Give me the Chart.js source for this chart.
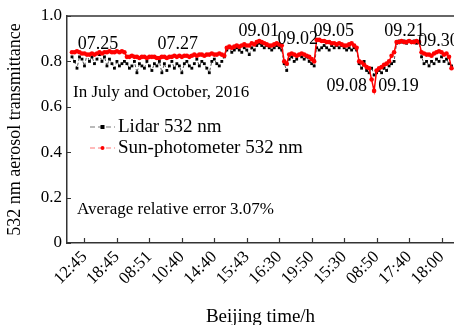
<!DOCTYPE html>
<html>
<head>
<meta charset="utf-8">
<script src="https://cdn.jsdelivr.net/npm/chart.js@4/dist/chart.umd.min.js"></script>
<style>
html, body { margin: 0; padding: 0; background: #fff; }
#wrap { position: relative; width: 454px; height: 325px; }
</style>
</head>
<body>
<div id="wrap"><canvas id="chart" width="454" height="325"></canvas></div>
<script>
// x axis tick labels (Beijing time) and the sample index they sit on
const tickLabels = ['12:45', '18:45', '08:51', '10:40', '14:40', '15:43', '16:30', '19:50', '15:30', '08:50', '17:40', '18:00'];
const tickIndex = [7, 20, 33, 46, 59, 72, 85, 98, 111, 124, 137, 150];

// sun-photometer 532 nm, one value per sample (null = no sample)
const sunValues = [
  null, null,
  // 07.25
  0.84, 0.84, 0.845, 0.84, 0.835, 0.835, 0.83, 0.83, 0.835, 0.83, 0.835, 0.84, 0.835, 0.84, 0.84, 0.845, 0.84, 0.84, 0.845, 0.84, 0.845, 0.84,
  // 07.27
  0.82, 0.82, 0.825, 0.82, 0.82, 0.815, 0.82, 0.82, 0.815, 0.82, 0.82, 0.82, 0.815, 0.815, 0.82, 0.82, 0.815, 0.82, 0.82, 0.825,
  0.82, 0.825, 0.82, 0.825, 0.825, 0.82, 0.825, 0.83, 0.825, 0.83, 0.83, 0.825, 0.83, 0.83, 0.835, 0.83, 0.83, 0.835, 0.83, 0.825,
  // 09.01
  0.86, 0.865, 0.86, 0.865, 0.87, 0.865, 0.87, 0.875, 0.87, 0.87, 0.88, 0.875, 0.885, 0.89, 0.885, 0.88, 0.875, 0.87, 0.87, 0.875, 0.88, 0.875, 0.87,
  // 09.02
  0.80, 0.79, 0.83, 0.835, 0.83, 0.825, 0.83, 0.835, 0.83, 0.825, 0.82, 0.81, 0.80,
  // 09.05
  0.895, 0.895, 0.89, 0.89, 0.885, 0.885, 0.88, 0.88, 0.875, 0.88, 0.875, 0.87, 0.87, 0.875, 0.88, 0.87, 0.86,
  // 09.08
  0.80, 0.795, 0.785, 0.775, 0.77, 0.72, 0.67,
  // 09.19
  0.76, 0.77, 0.775, 0.785, 0.79, 0.80, 0.825, 0.84,
  // 09.21
  0.885, 0.885, 0.89, 0.885, 0.885, 0.89, 0.885, 0.885, 0.89, 0.885,
  // 09.30
  0.84, 0.835, 0.83, 0.83, 0.825, 0.835, 0.84, 0.845, 0.84, 0.83, 0.835, 0.82, 0.77,
  null
];

// lidar 532 nm, same samples
const lidarValues = [
  null, null,
  // 07.25
  0.82, 0.80, 0.77, 0.82, 0.81, 0.78, 0.83, 0.80, 0.82, 0.79, 0.81, 0.83, 0.80, 0.82, 0.78, 0.81, 0.79, 0.77, 0.80, 0.78, 0.79, 0.80,
  // 07.27
  0.79, 0.77, 0.78, 0.80, 0.75, 0.79, 0.78, 0.77, 0.80, 0.78, 0.76, 0.79, 0.78, 0.80, 0.75, 0.79, 0.76, 0.78, 0.80, 0.77,
  0.79, 0.78, 0.75, 0.79, 0.80, 0.78, 0.77, 0.79, 0.81, 0.78, 0.80, 0.79, 0.77, 0.75, 0.80, 0.81, 0.79, 0.78, 0.80, 0.82,
  // 09.01
  0.85, 0.86, 0.84, 0.85, 0.86, 0.85, 0.84, 0.86, 0.85, 0.83, 0.86, 0.85, 0.87, 0.88, 0.87, 0.86, 0.87, 0.86, 0.85, 0.86, 0.87, 0.86, 0.85,
  // 09.02
  0.79, 0.76, 0.81, 0.82, 0.80, 0.81, 0.83, 0.82, 0.81, 0.82, 0.80, 0.79, 0.78,
  // 09.05
  0.86, 0.85, 0.86, 0.87, 0.86, 0.85, 0.87, 0.86, 0.87, 0.86, 0.87, 0.86, 0.85, 0.86, 0.85, 0.86, 0.85,
  // 09.08
  0.79, 0.77, 0.80, 0.76, 0.75, 0.77, 0.74,
  // 09.19
  0.75, 0.76, 0.75, 0.77, 0.76, 0.78, 0.79, 0.80,
  // 09.21
  0.88, 0.89, 0.885, 0.89, 0.88, 0.89, 0.885, 0.89, 0.88, 0.885,
  // 09.30
  0.82, 0.79, 0.80, 0.78, 0.80, 0.79, 0.81, 0.80, 0.82, 0.80, 0.81, 0.79, 0.78,
  null
];

const seriesNames = ['Lidar 532 nm', 'Sun-photometer 532 nm'];

// date tags placed in data coordinates (sample index, transmittance)
const dateTags = [
  { text: '07.25', x: 12.4, y: 0.876 },
  { text: '07.27', x: 44.4, y: 0.876 },
  { text: '09.01', x: 76.8, y: 0.934 },
  { text: '09.02', x: 92.4, y: 0.898 },
  { text: '09.05', x: 106.8, y: 0.934 },
  { text: '09.08', x: 112, y: 0.69 },
  { text: '09.19', x: 132.8, y: 0.69 },
  { text: '09.21', x: 135.2, y: 0.934 },
  { text: '09.30', x: 148.8, y: 0.889 }
];

const serif = '"Liberation Serif", "DejaVu Serif", serif';
Chart.defaults.font.family = serif;
Chart.defaults.color = '#000';

const toPoints = arr => arr.map((v, i) => ({ x: i, y: v }));

const decorations = {
  id: 'decorations',
  afterDatasetsDraw(chart) {
    const { ctx, chartArea: a, scales: { x, y } } = chart;
    ctx.save();
    ctx.strokeStyle = '#333';
    ctx.lineWidth = 1.5;
    // top frame line
    ctx.beginPath();
    ctx.moveTo(a.left, a.top);
    ctx.lineTo(a.right, a.top);
    ctx.stroke();
    // inward tick marks
    ctx.lineWidth = 1.2;
    ctx.beginPath();
    y.ticks.forEach(t => {
      const py = Math.round(y.getPixelForValue(t.value)) + 0.5;
      ctx.moveTo(a.left, py);
      ctx.lineTo(a.left + 4, py);
    });
    x.ticks.forEach(t => {
      const px = Math.round(x.getPixelForValue(t.value)) + 0.5;
      ctx.moveTo(px, a.bottom);
      ctx.lineTo(px, a.bottom - 5);
    });
    ctx.stroke();
    ctx.restore();
  },
  afterDraw(chart) {
    const { ctx, chartArea: a, scales: { x, y } } = chart;
    ctx.save();
    ctx.fillStyle = '#000';
    ctx.textBaseline = 'middle';

    ctx.font = '18px ' + serif;
    ctx.textAlign = 'center';
    dateTags.forEach(d => ctx.fillText(d.text, x.getPixelForValue(d.x), y.getPixelForValue(d.y)));

    ctx.font = '17px ' + serif;
    ctx.textAlign = 'left';
    ctx.fillText('In July and October, 2016', a.left + 6, 93);
    ctx.fillText('Average relative error 3.07%', a.left + 10, 210);

    // legend
    const rows = [
      { label: seriesNames[0], line: '#777', mark: '#000', shape: 'rect', yy: 127 },
      { label: seriesNames[1], line: '#f77', mark: '#f00', shape: 'circle', yy: 148 }
    ];
    rows.forEach(r => {
      const x0 = a.left + 23, x1 = a.left + 48;
      ctx.strokeStyle = r.line;
      ctx.lineWidth = 1.2;
      ctx.setLineDash([5, 3]);
      ctx.beginPath();
      ctx.moveTo(x0, r.yy);
      ctx.lineTo(x1, r.yy);
      ctx.stroke();
      ctx.setLineDash([]);
      ctx.fillStyle = r.mark;
      const cx = (x0 + x1) / 2;
      if (r.shape === 'rect') ctx.fillRect(cx - 2, r.yy - 2, 4, 4);
      else { ctx.beginPath(); ctx.arc(cx, r.yy, 2, 0, Math.PI * 2); ctx.fill(); }
      ctx.fillStyle = '#000';
      ctx.font = '19px ' + serif;
      ctx.fillText(r.label, a.left + 51, r.yy);
    });
    ctx.restore();
  }
};

new Chart(document.getElementById('chart'), {
  type: 'line',
  data: {
    datasets: [
      {
        label: seriesNames[0],
        data: toPoints(lidarValues),
        borderColor: '#555',
        borderWidth: 1,
        borderDash: [3, 2],
        pointStyle: 'rect',
        pointRadius: 2,
        pointBackgroundColor: '#000',
        pointBorderColor: '#000',
        pointBorderWidth: 0,
        spanGaps: false,
        order: 1
      },
      {
        label: seriesNames[1],
        data: toPoints(sunValues),
        borderColor: '#f00',
        borderWidth: 1.5,
        pointStyle: 'circle',
        pointRadius: 2.3,
        pointBackgroundColor: '#f00',
        pointBorderColor: '#f00',
        pointBorderWidth: 0,
        spanGaps: false,
        order: 0
      }
    ]
  },
  options: {
    responsive: false,
    animation: false,
    layout: { autoPadding: false, padding: { top: 16, right: 0, left: 0, bottom: 0 } },
    plugins: { legend: { display: false }, tooltip: { enabled: false } },
    scales: {
      x: {
        type: 'linear',
        min: 0,
        max: 155,
        afterBuildTicks: s => { s.ticks = tickIndex.map(v => ({ value: v })); },
        afterFit: s => { s.height = 82; s.paddingLeft = 0; s.paddingRight = 0; },
        grid: { display: false, drawTicks: false },
        border: { display: true, color: '#333', width: 1.5 },
        ticks: {
          autoSkip: false,
          minRotation: 45,
          maxRotation: 45,
          padding: 4,
          font: { size: 17 },
          callback: (v, i) => tickLabels[i]
        },
        title: {
          display: true,
          text: 'Beijing time/h',
          font: { size: 19, lineHeight: 1 },
          padding: { top: 0, bottom: -2 }
        }
      },
      y: {
        min: 0,
        max: 1,
        afterFit: s => { s.width = 67; },
        grid: { display: false, drawTicks: false },
        border: { display: true, color: '#333', width: 1.5 },
        ticks: {
          stepSize: 0.2,
          padding: 5,
          font: { size: 17 },
          callback: v => (v === 0 ? '0' : v.toFixed(1))
        },
        title: {
          display: true,
          text: '532 nm aerosol transmittance',
          font: { size: 18, lineHeight: 1 },
          padding: { top: 6, bottom: 0 }
        }
      }
    }
  },
  plugins: [decorations]
});
</script>
</body>
</html>
